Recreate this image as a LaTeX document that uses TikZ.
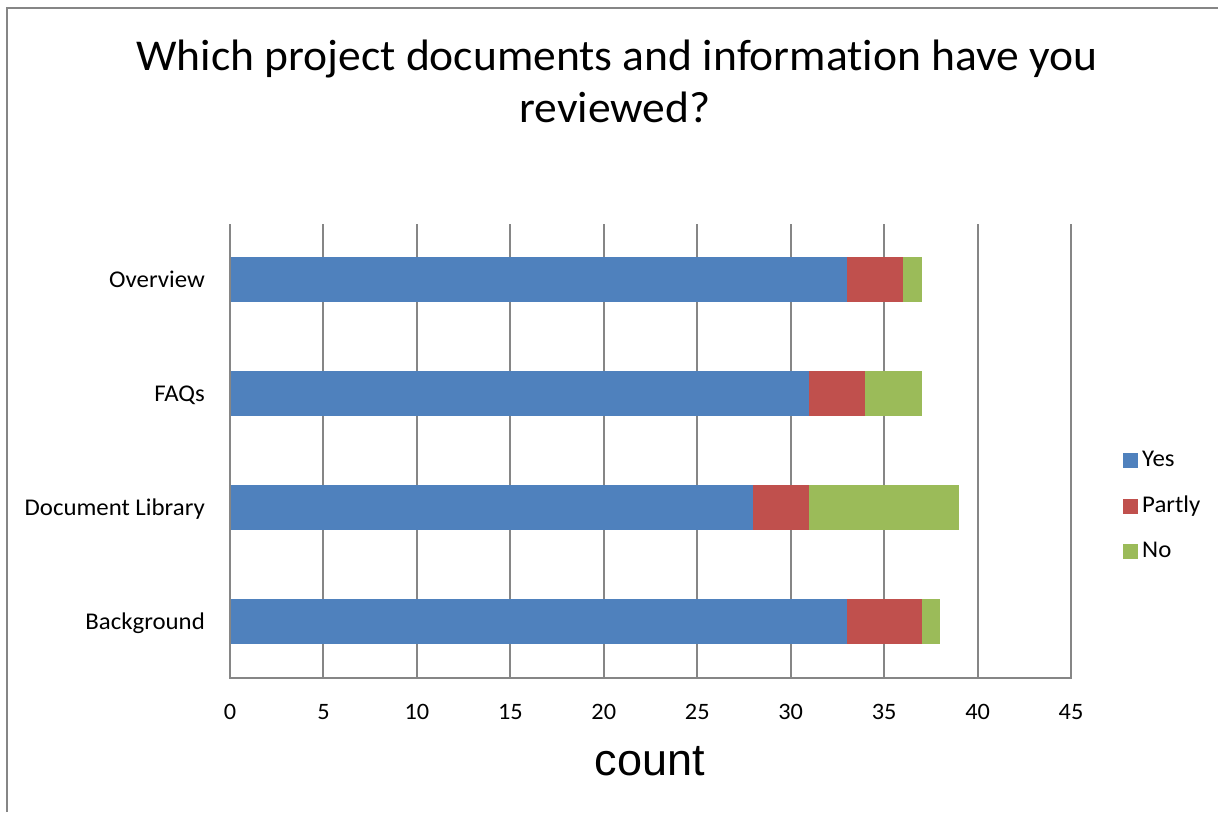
\documentclass[tikz,border=0pt]{standalone}
\usepackage{fontspec}
\setmainfont{Carlito}[Ligatures=NoCommon, FakeStretch=1.035]
\newfontfamily\arialf{Liberation Sans}
\definecolor{cyes}{HTML}{4F81BD}
\definecolor{cpart}{HTML}{C0504D}
\definecolor{cno}{HTML}{9BBB59}
\definecolor{cgrid}{HTML}{868686}
\tikzset{
  gridline/.style={draw=cgrid, line width=2pt},
  framel/.style={draw=cgrid, line width=2pt},
  catlabel/.style={anchor=base east, font=\fontsize{24}{27}\selectfont, inner sep=0pt},
  ticklabel/.style={anchor=base, font=\fontsize{23.5}{26}\selectfont, inner sep=0pt},
  leglabel/.style={anchor=base west, font=\fontsize{24}{27}\selectfont, inner sep=0pt},
  titletext/.style={anchor=base, font=\fontsize{44}{48}\selectfont, inner sep=0pt},
  axtitle/.style={anchor=base, font=\arialf\fontsize{45}{50}\selectfont, inner sep=0pt}
}
\begin{document}
\begin{tikzpicture}[x=1pt,y=-1pt]
\useasboundingbox (0,0) rectangle (1218,812);
\fill[white] (0,0) rectangle (1218,812);
% outer frame (only top and left visible)
\draw[framel] (7,812) -- (7,8) -- (1218,8);
% title
\node[titletext] (t1) at (617,70) {Which project documents and information have you};
\node[titletext] (t2) at (615,122) {reviewed?};
% gridlines
\foreach \v in {5,10,...,45} {
  \draw[gridline] ({230+18.69*\v},224) -- ({230+18.69*\v},678);
}
\draw[gridline] (230,224) -- (230,679);
\draw[gridline] (229,678) -- (1072,678);
% bars
\foreach \n/\yy/\a/\b/\c in {ov/257/33/36/37, fq/371/31/34/37, dl/485/28/31/39, bg/599/33/37/38} {
  \fill[cyes] (231,\yy) rectangle ({230+18.69*\a},{\yy+45});
  \fill[cpart] ({230+18.69*\a},\yy) rectangle ({230+18.69*\b},{\yy+45});
  \fill[cno] ({230+18.69*\b},\yy) rectangle ({230+18.69*\c},{\yy+45});
}
% category labels
\node[catlabel] (cov) at (205,287) {Overview};
\node[catlabel] (cfq) at (205,401) {FAQs};
\node[catlabel] (cdl) at (205,515) {Document Library};
\node[catlabel] (cbg) at (205,629) {Background};
% tick labels
\foreach \v in {0,5,...,45} {
  \node[ticklabel] (tk\v) at ({230+18.69*\v},719) {\v};
}
% axis title
\node[axtitle] (count) at (650,775) {count};
% legend
\fill[cyes] (1123,453) rectangle (1138,468);
\fill[cpart] (1123,499) rectangle (1138,514);
\fill[cno] (1123,544) rectangle (1138,559);
\node[leglabel] (lyes) at (1142,466) {Yes};
\node[leglabel] (lpart) at (1142,512) {Partly};
\node[leglabel] (lno) at (1142,557) {No};
\end{tikzpicture}
\end{document}
